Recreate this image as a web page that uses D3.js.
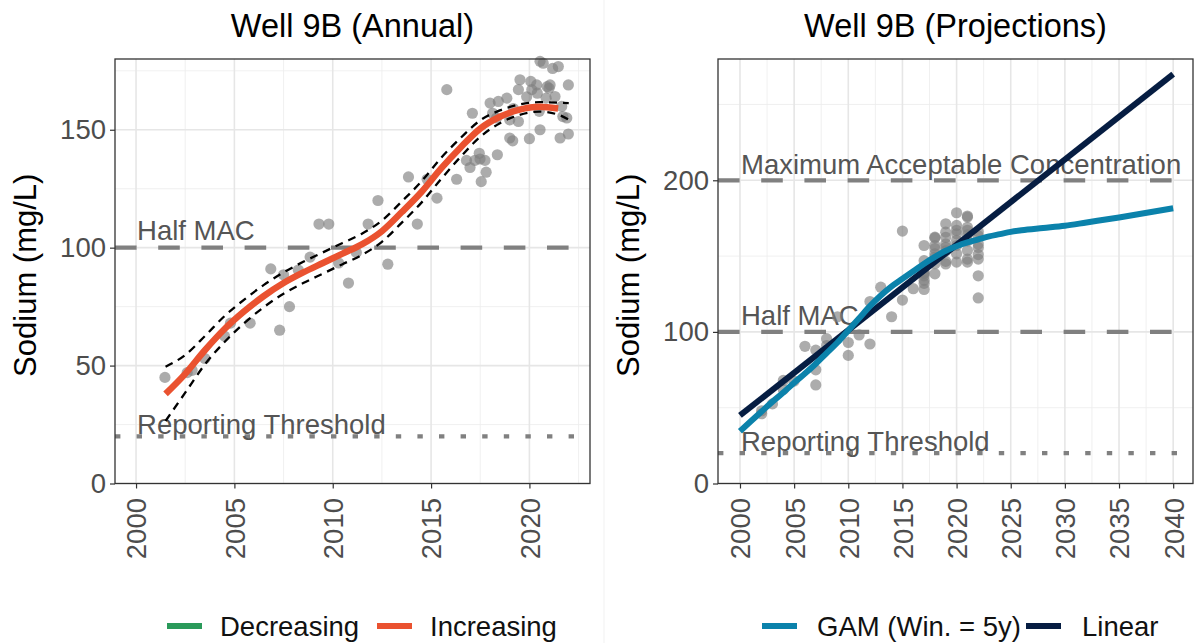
<!DOCTYPE html>
<html>
<head>
<meta charset="utf-8">
<script src="https://cdn.jsdelivr.net/npm/d3@7"></script>
<style>
  body { margin: 0; background: #ffffff; }
  svg { display: block; }
  text { font-family: "Liberation Sans", Arial, Helvetica, sans-serif; }
</style>
</head>
<body>
<svg id="chart" width="1195" height="643"></svg>
<script>
// ---- Sodium samples, Well 9B (sample date as decimal year, mg/L) ----
const annualDates = [
  2001.47, 2002.6, 2002.85, 2003.5, 2004.5, 2004.8, 2005.8, 2006.85, 2007.3, 2007.5,
  2007.8, 2008.25, 2008.85, 2009.3, 2009.8, 2010.3, 2010.8, 2011.2, 2011.8, 2012.3,
  2012.8, 2013.85, 2014.3, 2014.8, 2015.3, 2015.8, 2016.3, 2016.8, 2016.98, 2017.1,
  2017.23, 2017.45, 2017.49, 2017.55, 2017.74, 2017.8, 2018.0, 2018.13, 2018.33, 2018.37,
  2018.42, 2018.85, 2019.0, 2019.0, 2019.15, 2019.18, 2019.44, 2019.44, 2019.52, 2019.86,
  2020.0, 2020.07, 2020.12, 2020.37, 2020.4, 2020.5, 2020.54, 2020.54, 2020.7, 2020.85,
  2020.9, 2021.0, 2021.05, 2021.18, 2021.3, 2021.47, 2021.56, 2021.64, 2021.7, 2021.9,
  2021.98, 2021.98
];
const annualValues = [
  45, 47, 48, 53, 62.5, 68, 68, 91, 65, 88.5,
  75, 90.5, 96, 110, 110, 93.5, 85, 98, 110, 120,
  93, 130, 110, 129, 121, 167, 129, 137, 134, 157,
  137, 140, 137.6, 128, 137, 132, 161.3, 157, 155, 139.4,
  162, 163.4, 154.2, 146.5, 145.3, 159, 153.5, 167, 171.2, 164,
  146.2, 170.5, 167, 169, 165.5, 157.8, 179, 150, 178.2, 163.4,
  168.3, 167.6, 169, 176, 164.1, 176.8, 146.5, 159.9, 155.6, 155,
  169, 148.2
];

// Smoothed trend (increasing) with its confidence band
const fitYears  = [2001.5, 2002.5, 2003.5, 2004.5, 2005.5, 2006.5, 2007.5, 2008.5, 2009.5, 2010.5,
                   2011.5, 2012.5, 2013.5, 2014.5, 2015.5, 2016.5, 2017.5, 2018.5, 2019.5, 2020.5, 2021.46];
const fitValues = [38, 46.5, 56.5, 65.5, 73, 79.5, 85, 89.5, 93.5, 97.5,
                   101.5, 107, 115, 123.5, 133.5, 142.5, 150.5, 155.5, 158.5, 159.7, 159];
const ciYears = [2001.5, 2002.5, 2003.5, 2004.5, 2005.5, 2006.5, 2007.5, 2008.5, 2009.5, 2010.5, 2011.5,
                 2012.5, 2013.5, 2014.5, 2015.5, 2016.5, 2017.5, 2018.5, 2019.5, 2020.5, 2021.5, 2022.0];
const ciUpper = [49.5, 54.5, 62.5, 71, 78, 84.2, 89.5, 94, 98, 102, 106,
                 111.5, 119.5, 128, 138, 146.5, 154, 158.2, 160.7, 161.7, 161.5, 161.3];
const ciLower = [26.5, 38.5, 50.5, 60, 68, 74.8, 80.5, 85, 89, 93, 97,
                 102.5, 110.5, 119, 129, 138.5, 147, 152.8, 156.3, 157.7, 156.3, 154.3];

// ---- Samples by year (projection panel) ----
const projYears = [
  2002, 2002, 2003, 2004, 2004, 2005, 2006, 2007, 2007, 2007, 2008, 2008, 2009, 2010, 2010,
  2011, 2012, 2012, 2013, 2014, 2015, 2015, 2016,
  2017, 2017, 2017, 2017, 2017, 2017, 2017, 2017,
  2018, 2018, 2018, 2018, 2018, 2018, 2018, 2018,
  2019, 2019, 2019, 2019, 2019, 2019, 2019, 2019,
  2020, 2020, 2020, 2020, 2020, 2020, 2020, 2020,
  2021, 2021, 2021, 2021, 2021, 2021, 2021, 2021, 2021,
  2022, 2022, 2022, 2022, 2022, 2022, 2022, 2022
];
const projValues = [
  46, 48, 52.5, 62, 68, 67.5, 90.5, 88, 75, 65, 95.5, 91, 110, 93, 84.5,
  98, 92, 120, 129.5, 110, 121, 166.5, 128.5,
  157, 147, 139, 134, 128, 138.5, 132, 137,
  162.5, 157, 151.5, 138.3, 149.3, 155, 145, 162,
  171.3, 165.8, 158, 144.8, 162.4, 155.8, 153.5, 146.5,
  178.6, 170.2, 164.7, 151.5, 146, 160.3, 167, 157,
  176.4, 167, 153.7, 146, 175.7, 169, 160, 148, 164,
  163.4, 155.7, 148, 137, 122.4, 158, 166, 151
];

// Projection curves
const gamYears  = [2000, 2001, 2002, 2003, 2004, 2005, 2006, 2007, 2008, 2009, 2010, 2011, 2012, 2013,
                   2014, 2015, 2016, 2017, 2018, 2019, 2020, 2021, 2022, 2023, 2024, 2025, 2026,
                   2028, 2030, 2032, 2035, 2040];
const gamValues = [34.5, 41, 47.5, 54, 60, 66.5, 72.5, 79, 86, 93, 101, 109, 117, 124,
                   130, 135, 140, 145, 149.5, 153.5, 156.5, 159, 161, 163, 164.5, 166, 167,
                   168.5, 170, 172.2, 175.5, 181.5];
const linearYears  = [2000, 2040];
const linearValues = [44.9, 270];

// Guideline levels
const refValues = [200, 100, 20];
const refLabels = ["Maximum Acceptable Concentration", "Half MAC", "Reporting Threshold"];
const refStyles = ["dashed", "dashed", "dotted"];

// Axis ticks
const annualXTicks = [2000, 2005, 2010, 2015, 2020];
const annualYTicks = [0, 50, 100, 150];
const projXTicks = [2000, 2005, 2010, 2015, 2020, 2025, 2030, 2035, 2040];
const projYTicks = [0, 100, 200];

// Legends
const trendLegend = ["Decreasing", "Increasing"];
const projLegend = ["GAM (Win. = 5y)", "Linear"];

// ---- Drawing ----
const COLORS = {
  Decreasing: "#2a9a5a",
  Increasing: "#ea5230",
  "GAM (Win. = 5y)": "#0b82ab",
  Linear: "#061d42"
};
const svg = d3.select("#chart");
const FONT_TICK = 27.5;

// faint divider between the two plots
svg.append("line").attr("x1", 604).attr("x2", 604).attr("y1", 0).attr("y2", 643)
  .attr("stroke", "#f3f3f3").attr("stroke-width", 1.2);

function panel(opts) {
  const { left, right, top, bottom, xDomain, yDomain, xTicks, yTicks, title, refs } = opts;
  const x = d3.scaleLinear().domain(xDomain).range([left, right]);
  const y = d3.scaleLinear().domain(yDomain).range([bottom, top]);
  const g = svg.append("g");
  const clipId = "clip" + Math.round(left);
  g.append("clipPath").attr("id", clipId).append("rect")
    .attr("x", left).attr("y", top).attr("width", right - left).attr("height", bottom - top);

  // minor + major grid
  const xStep = xTicks[1] - xTicks[0], yStep = yTicks[1] - yTicks[0];
  const xMinor = d3.range(xTicks[0] - xStep / 2, xDomain[1], xStep).filter(v => v > xDomain[0]);
  const yMinor = d3.range(yTicks[0] + yStep / 2, yDomain[1], yStep);
  const grid = g.append("g");
  grid.selectAll(".vmin").data(xMinor).join("line")
    .attr("x1", d => x(d)).attr("x2", d => x(d)).attr("y1", top).attr("y2", bottom)
    .attr("stroke", "#ececec").attr("stroke-width", 0.8);
  grid.selectAll(".hmin").data(yMinor).join("line")
    .attr("x1", left).attr("x2", right).attr("y1", d => y(d)).attr("y2", d => y(d))
    .attr("stroke", "#ececec").attr("stroke-width", 0.8);
  grid.selectAll(".vmaj").data(xTicks).join("line")
    .attr("x1", d => x(d)).attr("x2", d => x(d)).attr("y1", top).attr("y2", bottom)
    .attr("stroke", "#e6e6e6").attr("stroke-width", 1.6);
  grid.selectAll(".hmaj").data(yTicks).join("line")
    .attr("x1", left).attr("x2", right).attr("y1", d => y(d)).attr("y2", d => y(d))
    .attr("stroke", "#e6e6e6").attr("stroke-width", 1.6);

  // guideline levels
  const refG = g.append("g").attr("clip-path", `url(#${clipId})`);
  refs.forEach(r => {
    refG.append("line")
      .attr("x1", left).attr("x2", right).attr("y1", y(r.value)).attr("y2", y(r.value))
      .attr("stroke", "#808080").attr("stroke-width", 4.3)
      .attr("stroke-dasharray", r.style === "dotted" ? "5.4,16.2" : "21.6,21.6");
  });
  refs.forEach(r => {
    g.append("text")
      .attr("x", x(2000) + 1).attr("y", y(r.value) - r.offset)
      .attr("font-size", FONT_TICK).attr("fill", "#555555")
      .text(r.label);
  });

  // title
  svg.append("text")
    .attr("x", (left + right) / 2).attr("y", 37)
    .attr("text-anchor", "middle").attr("font-size", 32.5).attr("fill", "#000")
    .text(title);

  // y label
  svg.append("text")
    .attr("transform", `translate(${left - 79},${(top + bottom) / 2 + 4}) rotate(-90)`)
    .attr("text-anchor", "middle").attr("font-size", 31).attr("fill", "#000")
    .text("Sodium (mg/L)");

  // axes
  const yAxis = svg.append("g").attr("transform", `translate(${left},0)`)
    .call(d3.axisLeft(y).tickValues(yTicks).tickFormat(d3.format("d")).tickSize(5).tickPadding(4));
  yAxis.select(".domain").remove();
  yAxis.selectAll("line").attr("stroke", "#333").attr("stroke-width", 1.2);
  yAxis.selectAll("text").attr("font-size", FONT_TICK).attr("fill", "#4d4d4d")
    .attr("font-family", '"Liberation Sans", Arial, sans-serif');

  const xAxis = svg.append("g").attr("transform", `translate(0,${bottom})`)
    .call(d3.axisBottom(x).tickValues(xTicks).tickFormat(d3.format("d")).tickSize(5));
  xAxis.select(".domain").remove();
  xAxis.selectAll("line").attr("stroke", "#333").attr("stroke-width", 1.2);
  xAxis.selectAll("text")
    .attr("transform", "rotate(-90)")
    .attr("x", -14.5).attr("y", 0).attr("dy", "0.36em")
    .attr("text-anchor", "end")
    .attr("font-size", FONT_TICK).attr("fill", "#4d4d4d")
    .attr("font-family", '"Liberation Sans", Arial, sans-serif');

  return { x, y, g, clipId, frame: () =>
    svg.append("rect").attr("x", left).attr("y", top)
      .attr("width", right - left).attr("height", bottom - top)
      .attr("fill", "none").attr("stroke", "#333").attr("stroke-width", 1.3) };
}

function legend(items, keyX, textX, yc) {
  items.forEach((name, i) => {
    svg.append("line").attr("x1", keyX[i]).attr("x2", keyX[i] + 35)
      .attr("y1", yc).attr("y2", yc)
      .attr("stroke", COLORS[name]).attr("stroke-width", 6);
    svg.append("text").attr("x", textX[i]).attr("y", yc).attr("dy", "0.36em")
      .attr("font-size", FONT_TICK).attr("fill", "#111").text(name);
  });
}

// ---------- Annual panel ----------
const A = panel({
  left: 115, right: 590, top: 59, bottom: 483.5,
  xDomain: [1998.93, 2023.08], yDomain: [0, 180],
  xTicks: annualXTicks, yTicks: annualYTicks,
  title: "Well 9B (Annual)",
  refs: [
    { value: refValues[1], label: refLabels[1], style: refStyles[1], offset: 8 },
    { value: refValues[2], label: refLabels[2], style: refStyles[2], offset: 2 }
  ]
});
const annualPts = annualDates.map((d, i) => ({ x: d, y: annualValues[i] }));
A.g.append("g").selectAll("circle").data(annualPts).join("circle")
  .attr("cx", d => A.x(d.x)).attr("cy", d => A.y(d.y)).attr("r", 5.6)
  .attr("fill", "#7f7f7f").attr("fill-opacity", 0.65);

const bandLine = vals => d3.line().x((d, i) => A.x(ciYears[i])).y(d => A.y(d)).curve(d3.curveMonotoneX)(vals);
[ciUpper, ciLower].forEach(vals => {
  A.g.append("path").attr("d", bandLine(vals))
    .attr("fill", "none").attr("stroke", "#000").attr("stroke-width", 2.3)
    .attr("stroke-dasharray", "8,6");
});
A.g.append("path")
  .attr("d", d3.line().x((d, i) => A.x(fitYears[i])).y(d => A.y(d)).curve(d3.curveMonotoneX)(fitValues))
  .attr("fill", "none").attr("stroke", COLORS.Increasing).attr("stroke-width", 6.5);
A.frame();

// ---------- Projection panel ----------
const P = panel({
  left: 718, right: 1193, top: 59, bottom: 483.5,
  xDomain: [1997.97, 2041.83], yDomain: [0, 280],
  xTicks: projXTicks, yTicks: projYTicks,
  title: "Well 9B (Projections)",
  refs: [
    { value: refValues[0], label: refLabels[0], style: refStyles[0], offset: 6 },
    { value: refValues[1], label: refLabels[1], style: refStyles[1], offset: 7 },
    { value: refValues[2], label: refLabels[2], style: refStyles[2], offset: 2.5 }
  ]
});
const projPts = projYears.map((d, i) => ({ x: d, y: projValues[i] }));
P.g.append("g").selectAll("circle").data(projPts).join("circle")
  .attr("cx", d => P.x(d.x)).attr("cy", d => P.y(d.y)).attr("r", 5.6)
  .attr("fill", "#7f7f7f").attr("fill-opacity", 0.65);

P.g.append("path")
  .attr("d", d3.line().x((d, i) => P.x(linearYears[i])).y(d => P.y(d))(linearValues))
  .attr("fill", "none").attr("stroke", COLORS.Linear).attr("stroke-width", 6);
P.g.append("path")
  .attr("d", d3.line().x((d, i) => P.x(gamYears[i])).y(d => P.y(d)).curve(d3.curveMonotoneX)(gamValues))
  .attr("fill", "none").attr("stroke", COLORS["GAM (Win. = 5y)"]).attr("stroke-width", 6);
P.frame();

// ---------- Legends ----------
legend(trendLegend, [167, 377], [220, 430], 626);
legend(projLegend, [762, 1026], [817, 1082], 626);
</script>
</body>
</html>
